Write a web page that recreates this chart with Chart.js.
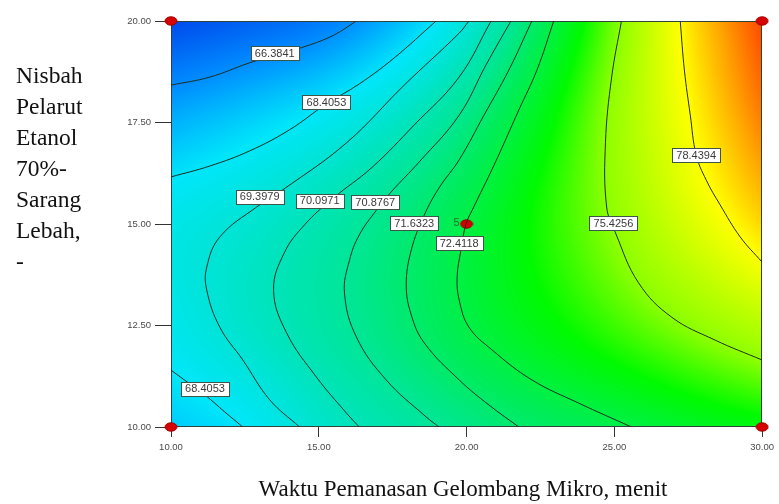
<!DOCTYPE html>
<html>
<head>
<meta charset="utf-8">
<script src="https://cdn.jsdelivr.net/npm/chart.js@4.4.1/dist/chart.umd.min.js"></script>
<style>
  html, body { margin: 0; padding: 0; background: #ffffff; }
  #wrap { position: relative; width: 779px; height: 504px; overflow: hidden; }
  #plot { position: absolute; left: 0; top: 0; }
  .ytitle {
    position: absolute; left: 16px; top: 60px;
    font-family: "Liberation Serif", "Times New Roman", serif;
    font-size: 23.5px; line-height: 31px; color: #111;
  }
  .xtitle {
    position: absolute; left: 0; width: 926px; top: 476px; text-align: center;
    font-family: "Liberation Serif", "Times New Roman", serif;
    font-size: 23px; line-height: 26px; color: #111; white-space: nowrap;
  }
</style>
</head>
<body>
<div id="wrap">
  <canvas id="plot" width="779" height="504"></canvas>
  <div class="ytitle">Nisbah<br>Pelarut<br>Etanol<br>70%-<br>Sarang<br>Lebah,<br>-</div>
  <div class="xtitle">Waktu Pemanasan Gelombang Mikro, menit</div>
</div>
<script>
// Axis ticks
const timeTicks = [10, 15, 20, 25, 30];          // Waktu pemanasan (menit)
const ratioTicks = [10, 12.5, 15, 17.5, 20];     // Nisbah pelarut

// Response surface sampled on a regular grid (rows = nisbah, columns = waktu)
const gridTime = [10, 12.5, 15, 17.5, 20, 22.5, 25, 27.5, 30];
const gridRatio = [10, 12.5, 15, 17.5, 20];
const yieldAtRatio10   = [67.8, 68.44, 69.63, 70.43, 71.14, 71.78, 72.29, 72.9, 73.4];
const yieldAtRatio12_5 = [68.8, 69.67, 70.49, 71.35, 72.38, 73.4, 74.42, 75.44, 76.5];
const yieldAtRatio15   = [68.9, 69.49, 70.28, 71.24, 72.41, 73.94, 75.5, 77.34, 79.2];
const yieldAtRatio17_5 = [67.2, 67.9, 68.69, 69.76, 71.26, 73.28, 75.7, 78.3, 80.9];
const yieldAtRatio20   = [64.6, 65.2, 65.9, 67.3, 69.33, 71.94, 75.11, 78.85, 82.0];

// Contour lines: [waktu, nisbah] pairs for each level
const contour66_3841 = [[10,18.42],[11.32,18.62],[12.66,18.97],[13.68,19.19],[14.69,19.41],[15.53,19.66],[16.27,20]];
const contour68_4053a = [[10,16.16],[11.32,16.43],[12.66,16.80],[14.01,17.32],[15.26,17.96],[16.37,18.45],[17.55,19.09],[18.97,20]];
const contour68_4053b = [[10,11.40],[10.64,11.06],[11.15,10.79],[11.82,10.37],[12.43,10]];
const contour69_3979 = [[20.08,20],[19.75,19.70],[17.89,18.42],[15.94,17.00],[13.78,15.84],[12.90,15.42],[11.65,14.68],[11.21,13.94],[11.21,13.37],[11.65,12.46],[12.43,11.65],[13.34,10.67],[14.35,10]];
const contour70_0971 = [[20.83,20],[19.75,18.62],[18.23,17.44],[16.81,16.40],[15.46,15.62],[14.52,14.98],[13.84,14.30],[13.47,13.37],[13.91,12.32],[14.92,11.23],[15.94,10.34],[16.37,10]];
const contour70_8767 = [[21.50,20],[20.66,18.92],[19.75,17.68],[18.40,16.53],[17.45,15.79],[16.95,15.34],[16.37,14.73],[16.04,14.11],[15.87,13.30],[16.27,12.22],[17.28,11.16],[18.63,10.25],[19.07,10]];
const contour71_6323 = [[22.21,20],[21.43,18.79],[20.59,17.68],[19.75,16.58],[19.07,15.89],[18.57,15.22],[18.13,14.36],[17.96,13.50],[18.13,12.76],[18.57,12.07],[19.75,11.16],[20.76,10.54],[21.77,10]];
const contour72_4118 = [[22.95,20],[22.38,18.79],[21.77,17.81],[20.93,16.45],[20.19,15.34],[19.98,15.00],[19.81,14.36],[19.68,13.69],[19.75,13.13],[20.08,12.46],[20.86,11.90],[22.21,11.16],[23.79,10.59],[25.58,10]];
const contour75_4256 = [[25.24,20],[24.91,18.62],[24.70,17.00],[24.74,15.42],[25.04,14.78],[25.82,13.55],[26.93,12.71],[28.41,12.14],[30,11.65]];
const contour78_4394 = [[27.23,20],[27.37,18.79],[27.57,17.68],[27.77,16.70],[28.11,16.08],[28.58,15.47],[29.26,14.68],[30,14.06]];

// Contour value labels: level and where its tag sits
const labelLevels = [66.3841, 68.4053, 69.3979, 70.0971, 70.8767, 71.6323, 72.4118, 75.4256, 78.4394, 68.4053];
const labelTime   = [13.51, 15.26, 13.00, 15.03, 16.91, 18.23, 19.75, 24.97, 27.77, 11.15];
const labelRatio  = [19.21, 18.00, 15.67, 15.57, 15.54, 15.02, 14.53, 15.02, 16.70, 10.94];

// Design points (run count shown beside the centre point)
const designTime  = [10, 10, 30, 30, 20];
const designRatio = [10, 20, 10, 20, 15];
const designRuns  = [1, 1, 1, 1, 5];

// Colour ramp for the surface
const rampValues = [64.5, 66.4, 68.4, 69.4, 70.1, 70.9, 71.6, 72.4, 73.7, 75.4, 78.4, 80.2, 82.0];
const rampColours = [[0,70,235],[0,140,255],[0,230,250],[0,228,215],[0,228,185],[0,230,150],[0,234,110],[0,240,70],[0,250,0],[140,255,0],[255,255,0],[255,165,0],[255,70,0]];

const surfaceRows = [yieldAtRatio10, yieldAtRatio12_5, yieldAtRatio15, yieldAtRatio17_5, yieldAtRatio20];

function catmull(p0, p1, p2, p3, t) {
  return 0.5 * (2 * p1 + (-p0 + p2) * t + (2 * p0 - 5 * p1 + 4 * p2 - p3) * t * t + (-p0 + 3 * p1 - 3 * p2 + p3) * t * t * t);
}
function pick(arr, i) {
  const n = arr.length;
  if (i < 0) return 2 * arr[0] - arr[1];
  if (i >= n) return 2 * arr[n - 1] - arr[n - 2];
  return arr[i];
}
function rowAt(r, tx) {
  const row = surfaceRows[r];
  const u = (tx - gridTime[0]) / (gridTime[1] - gridTime[0]);
  let c = Math.min(Math.max(Math.floor(u), 0), row.length - 2);
  return catmull(pick(row, c - 1), pick(row, c), pick(row, c + 1), pick(row, c + 2), u - c);
}
function surfaceAt(tx, ry) {
  const v = (ry - gridRatio[0]) / (gridRatio[1] - gridRatio[0]);
  const n = surfaceRows.length;
  let r = Math.min(Math.max(Math.floor(v), 0), n - 2);
  const col = [];
  for (let k = 0; k < n; k++) col.push(rowAt(k, tx));
  return catmull(pick(col, r - 1), pick(col, r), pick(col, r + 1), pick(col, r + 2), v - r);
}
function colourFor(val) {
  if (val <= rampValues[0]) return rampColours[0];
  const last = rampValues.length - 1;
  if (val >= rampValues[last]) return rampColours[last];
  let i = 0;
  while (val > rampValues[i + 1]) i++;
  const t = (val - rampValues[i]) / (rampValues[i + 1] - rampValues[i]);
  const a = rampColours[i], b = rampColours[i + 1];
  return [a[0] + (b[0] - a[0]) * t, a[1] + (b[1] - a[1]) * t, a[2] + (b[2] - a[2]) * t];
}

// Filled surface behind the contour lines, plus the frame
const surfacePlugin = {
  id: 'surfaceFill',
  beforeDatasetsDraw(chart) {
    const { ctx, chartArea: a, scales: { x, y } } = chart;
    const w = Math.round(a.right - a.left), h = Math.round(a.bottom - a.top);
    const off = document.createElement('canvas');
    off.width = w; off.height = h;
    const octx = off.getContext('2d');
    const img = octx.createImageData(w, h);
    for (let j = 0; j < h; j++) {
      const ry = y.getValueForPixel(a.top + j + 0.5);
      for (let i = 0; i < w; i++) {
        const tx = x.getValueForPixel(a.left + i + 0.5);
        const c = colourFor(surfaceAt(tx, ry));
        const k = (j * w + i) * 4;
        img.data[k] = c[0]; img.data[k + 1] = c[1]; img.data[k + 2] = c[2]; img.data[k + 3] = 255;
      }
    }
    octx.putImageData(img, 0, 0);
    ctx.save();
    ctx.drawImage(off, a.left, a.top);
    ctx.strokeStyle = '#2f4438';
    ctx.lineWidth = 1;
    ctx.strokeRect(a.left + 0.5, a.top + 0.5, w - 1, h - 1);
    ctx.restore();
  }
};

// Boxed contour values and run counts
const tagPlugin = {
  id: 'contourTags',
  afterDatasetsDraw(chart) {
    const { ctx, scales: { x, y } } = chart;
    ctx.save();
    ctx.font = '11px "Liberation Sans", Arial, sans-serif';
    ctx.textAlign = 'center';
    ctx.textBaseline = 'middle';
    labelLevels.forEach((lv, i) => {
      const px = x.getPixelForValue(labelTime[i]);
      const py = y.getPixelForValue(labelRatio[i]);
      const txt = lv.toFixed(4);
      const tw = Math.round(ctx.measureText(txt).width + 8);
      const bx = Math.round(px - tw / 2) + 0.5, by = Math.round(py - 7) + 0.5;
      ctx.fillStyle = '#ffffff';
      ctx.fillRect(bx, by, tw, 14);
      ctx.strokeStyle = '#3d5548';
      ctx.lineWidth = 1;
      ctx.strokeRect(bx, by, tw, 14);
      ctx.fillStyle = '#3a3a3a';
      ctx.fillText(txt, px, py + 0.5);
    });
    ctx.fillStyle = '#2c6a2c';
    ctx.textAlign = 'right';
    designRuns.forEach((n, i) => {
      if (n > 1) {
        ctx.fillText(String(n), x.getPixelForValue(designTime[i]) - 7, y.getPixelForValue(designRatio[i]) - 1);
      }
    });
    ctx.restore();
  }
};

// Red elliptical marker for design points
const marker = document.createElement('canvas');
marker.width = 14; marker.height = 10;
(function () {
  const m = marker.getContext('2d');
  m.fillStyle = '#d60000';
  m.strokeStyle = '#a00000';
  m.beginPath();
  m.ellipse(7, 5, 6, 4.2, 0, 0, Math.PI * 2);
  m.fill();
  m.stroke();
})();

const contourSets = [contour66_3841, contour68_4053a, contour68_4053b, contour69_3979, contour70_0971,
                     contour70_8767, contour71_6323, contour72_4118, contour75_4256, contour78_4394];

const datasets = contourSets.map(pts => ({
  type: 'scatter',
  data: pts.map(p => ({ x: p[0], y: p[1] })),
  showLine: true,
  tension: 0.4,
  borderColor: '#1e2e22',
  borderWidth: 1,
  pointRadius: 0,
  pointHoverRadius: 0
}));
datasets.push({
  type: 'scatter',
  data: designTime.map((t, i) => ({ x: t, y: designRatio[i] })),
  pointStyle: marker,
  pointRadius: 6,
  clip: false
});

const tickFont = { family: '"Liberation Sans", Arial, sans-serif', size: 9.5 };

new Chart(document.getElementById('plot'), {
  type: 'scatter',
  data: { datasets },
  options: {
    responsive: false,
    animation: false,
    events: [],
    layout: { padding: { left: 0, top: 21, right: 15, bottom: 0 } },
    plugins: { legend: { display: false }, tooltip: { enabled: false } },
    scales: {
      x: {
        type: 'linear', min: timeTicks[0], max: timeTicks[timeTicks.length - 1],
        afterBuildTicks: s => { s.ticks = timeTicks.map(v => ({ value: v })); },
        afterFit: s => { s.height = 77; },
        ticks: { callback: v => Number(v).toFixed(2), font: tickFont, color: '#4a4a4a', padding: 5, maxRotation: 0 },
        grid: { drawOnChartArea: false, drawTicks: true, tickLength: 10, color: '#333333' },
        border: { display: false }
      },
      y: {
        type: 'linear', min: ratioTicks[0], max: ratioTicks[ratioTicks.length - 1],
        afterBuildTicks: s => { s.ticks = ratioTicks.map(v => ({ value: v })); },
        afterFit: s => { s.width = 171; },
        ticks: { callback: v => Number(v).toFixed(2), font: tickFont, color: '#4a4a4a', padding: 4 },
        grid: { drawOnChartArea: false, drawTicks: true, tickLength: 16, color: '#333333' },
        border: { display: false }
      }
    }
  },
  plugins: [surfacePlugin, tagPlugin]
});
</script>
</body>
</html>
